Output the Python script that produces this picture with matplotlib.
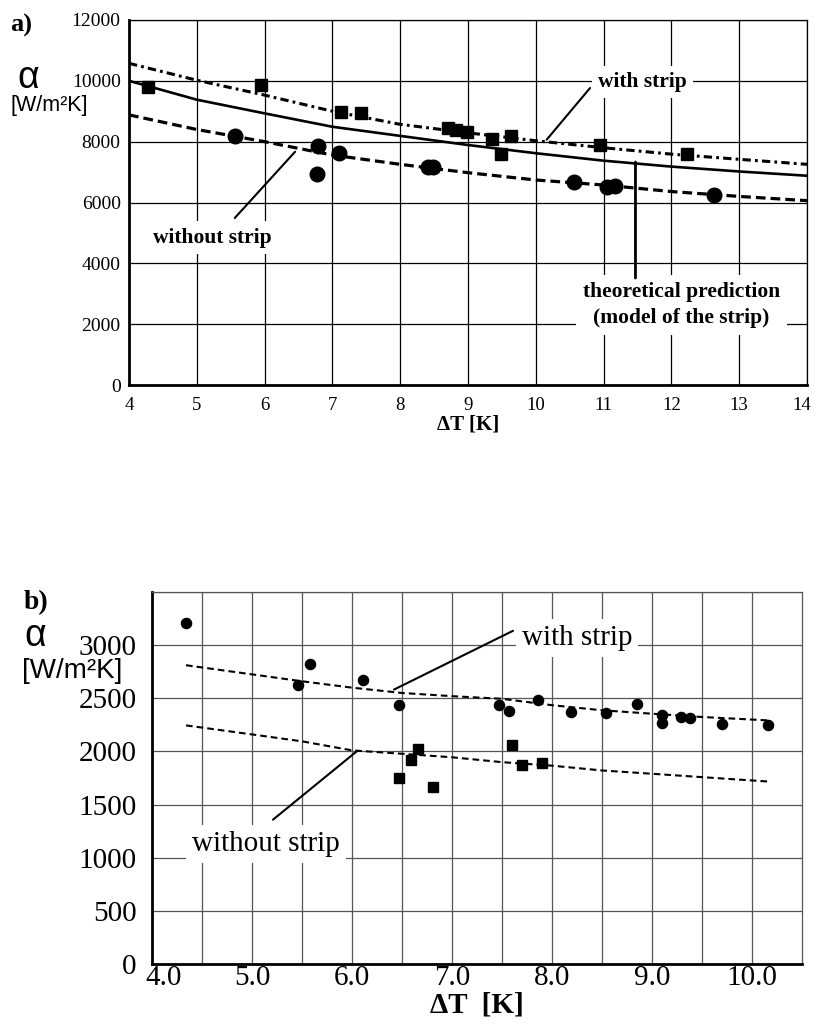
import matplotlib
matplotlib.use('Agg')
import matplotlib.pyplot as plt
import matplotlib.transforms as mtransforms

plt.rcParams['font.family'] = ['Liberation Serif', 'DejaVu Serif']
plt.rcParams['lines.scale_dashes'] = False

# ---- a) data
a_sq_x = [4.28, 5.94, 7.12, 7.42, 8.71, 8.83, 8.98, 9.36, 9.49, 9.64, 10.95, 12.23]
a_sq_y = [9790, 9860, 8970, 8930, 8440, 8380, 8310, 8090, 7580, 8190, 7880, 7590]
a_ci_x = [5.57, 6.79, 6.77, 7.09, 8.41, 8.49, 10.56, 11.05, 11.17, 12.63]
a_ci_y = [8200, 7870, 6950, 7630, 7180, 7180, 6680, 6500, 6550, 6250]
a_fit_x = [4, 5, 6, 7, 8, 9, 10, 11, 12, 13, 14]
a_fit_with = [10575, 10020, 9530, 9000, 8570, 8290, 8030, 7800, 7590, 7420, 7255]
a_theory = [10000, 9380, 8930, 8490, 8190, 7890, 7620, 7375, 7180, 7020, 6880]
a_fit_without = [8880, 8400, 8000, 7560, 7255, 6980, 6740, 6575, 6360, 6200, 6060]

# ---- b) data
b_ci_x = [4.34, 5.46, 5.58, 6.11, 6.47, 7.47, 7.57, 7.86, 8.19, 8.54, 8.85, 9.10, 9.10, 9.29, 9.38, 9.70, 10.16]
b_ci_y = [3205, 2629, 2827, 2670, 2434, 2434, 2380, 2481, 2371, 2361, 2450, 2340, 2267, 2324, 2318, 2261, 2245]
b_sq_x = [6.47, 6.59, 6.66, 6.81, 7.60, 7.70, 7.90]
b_sq_y = [1752, 1915, 2025, 1670, 2057, 1868, 1890]
b_fit_x = [4.34, 5.0, 5.5, 6.0, 6.5, 7.0, 7.5, 8.0, 8.5, 9.0, 9.5, 10.16]
b_fit_with = [2811, 2725, 2660, 2600, 2550, 2520, 2495, 2435, 2387, 2355, 2324, 2292]
b_fit_without = [2245, 2160, 2095, 2010, 1978, 1945, 1899, 1866, 1821, 1790, 1758, 1717]

fig = plt.figure(figsize=(8.14, 10.35), dpi=100)

def px(x, y):
    return x / 814, 1 - y / 1035

def shift(label, dx):
    # nudge a tick label sideways (in pixels at 100 dpi)
    label.set_transform(label.get_transform() + mtransforms.ScaledTranslation(dx / 100, 0, fig.dpi_scale_trans))

# ================= a) =================
ax = fig.add_axes([129 / 814, 1 - 385 / 1035, 678 / 814, 365 / 1035])
ax.set_xlim(4, 14)
ax.set_ylim(0, 12000)
ax.set_xticks(range(4, 15))
ax.set_yticks(range(0, 12001, 2000))
ax.grid(True, color='black', lw=0.9)
ax.set_axisbelow(True)
ax.tick_params(axis='both', length=0)
ax.tick_params(axis='x', labelsize=13.5, pad=9)
ax.tick_params(axis='y', labelsize=14, pad=6)
for s in ['left', 'bottom']:
    ax.spines[s].set_linewidth(2.0)
for s in ['top', 'right']:
    ax.spines[s].set_linewidth(0.9)
shift(ax.get_xticklabels()[-1], -5)

ax.plot(a_fit_x, a_fit_with, color='black', lw=2.2, dashes=(6, 3, 2, 3))
ax.plot(a_fit_x, a_theory, color='black', lw=1.9)
ax.plot(a_fit_x, a_fit_without, color='black', lw=2.3, dashes=(7, 3.6))
ax.plot(a_sq_x, a_sq_y, 's', color='black', ms=8.5, zorder=4)
ax.plot(a_ci_x, a_ci_y, 'o', color='black', ms=10.5, zorder=4)

ax.set_xlabel('ΔT [K]', fontsize=15, fontweight='bold', labelpad=0)

box = dict(facecolor='white', edgecolor='none', boxstyle='square,pad=0.3')
ax.text(10.92, 9962, 'with strip', fontsize=15.5, fontweight='bold', ha='left', va='center', bbox=box, zorder=5)
ax.text(4.35, 4843, 'without strip', fontsize=15.5, fontweight='bold', ha='left', va='center', bbox=box, zorder=5)
ax.text(12.15, 2630, 'theoretical prediction\n(model of the strip)', fontsize=15.5, fontweight='bold',
        ha='center', va='center', linespacing=1.45, bbox=box, zorder=5)

lead = dict(arrowstyle='-', color='black', lw=1.5, shrinkA=0, shrinkB=0)
ax.annotate('', xy=(10.16, 8065), xytext=(10.80, 9764), arrowprops=lead, zorder=6)
ax.annotate('', xy=(6.45, 7670), xytext=(5.56, 5490), arrowprops=lead, zorder=6)
ax.annotate('', xy=(11.47, 7331), xytext=(11.47, 3518),
            arrowprops=dict(arrowstyle='-', color='black', lw=2.0, shrinkA=0, shrinkB=0), zorder=6)

fig.text(*px(10, 25), 'a)', fontsize=19, fontweight='bold', ha='left', va='center')
fig.text(*px(17, 88), 'α', fontsize=27, family='Liberation Sans', ha='left', va='baseline')
fig.text(*px(10, 106), '[W/m²K]', fontsize=15.5, family='Liberation Sans', ha='left', va='center')

# ================= b) =================
bx = fig.add_axes([152 / 814, 1 - 964 / 1035, 650 / 814, 372 / 1035])
bx.set_xlim(4.0, 10.5)
bx.set_ylim(0, 3500)
bx.set_xticks(range(4, 11))
bx.set_xticklabels([f'{v:.1f}' for v in range(4, 11)])
bx.set_xticks([4.5 + i for i in range(6)], minor=True)
bx.set_yticks(range(0, 3001, 500))
bx.set_yticks([3500], minor=True)
bx.grid(True, which='both', color='#555555', lw=0.9)
bx.set_axisbelow(True)
bx.tick_params(axis='both', which='both', length=0)
bx.tick_params(axis='x', labelsize=21, pad=1)
bx.tick_params(axis='y', labelsize=21, pad=11)
for s in ['left', 'bottom']:
    bx.spines[s].set_linewidth(2.0)
for s in ['top', 'right']:
    bx.spines[s].set_linewidth(0.9)
    bx.spines[s].set_color('#555555')
shift(bx.get_xticklabels()[0], 12)

bx.plot(b_fit_x, b_fit_with, color='black', lw=1.5, dashes=(4.8, 2.9))
bx.plot(b_fit_x, b_fit_without, color='black', lw=1.5, dashes=(4.8, 2.9))
bx.plot(b_ci_x, b_ci_y, 'o', color='black', ms=7.3, zorder=4)
bx.plot(b_sq_x, b_sq_y, 's', color='black', ms=6.8, zorder=4)

bx.set_xlabel('ΔT  [K]', fontsize=21, fontweight='bold', labelpad=0)

box2 = dict(facecolor='white', edgecolor='none', boxstyle='square,pad=0.2')
bx.text(7.70, 3066, 'with strip', fontsize=21, ha='left', va='center', bbox=box2, zorder=5)
bx.text(4.40, 1132, 'without strip', fontsize=21, ha='left', va='center', bbox=box2, zorder=5)
bx.annotate('', xy=(6.42, 2582), xytext=(7.61, 3135), arrowprops=lead, zorder=6)
bx.annotate('', xy=(6.05, 2003), xytext=(5.21, 1358), arrowprops=lead, zorder=6)

fig.text(*px(24, 603), 'b)', fontsize=20, fontweight='bold', ha='left', va='center')
fig.text(*px(24, 646), 'α', fontsize=27, family='Liberation Sans', ha='left', va='baseline')
fig.text(*px(22, 671), '[W/m²K]', fontsize=20, family='Liberation Sans', ha='left', va='center')

fig.savefig('out.png', dpi=100)
